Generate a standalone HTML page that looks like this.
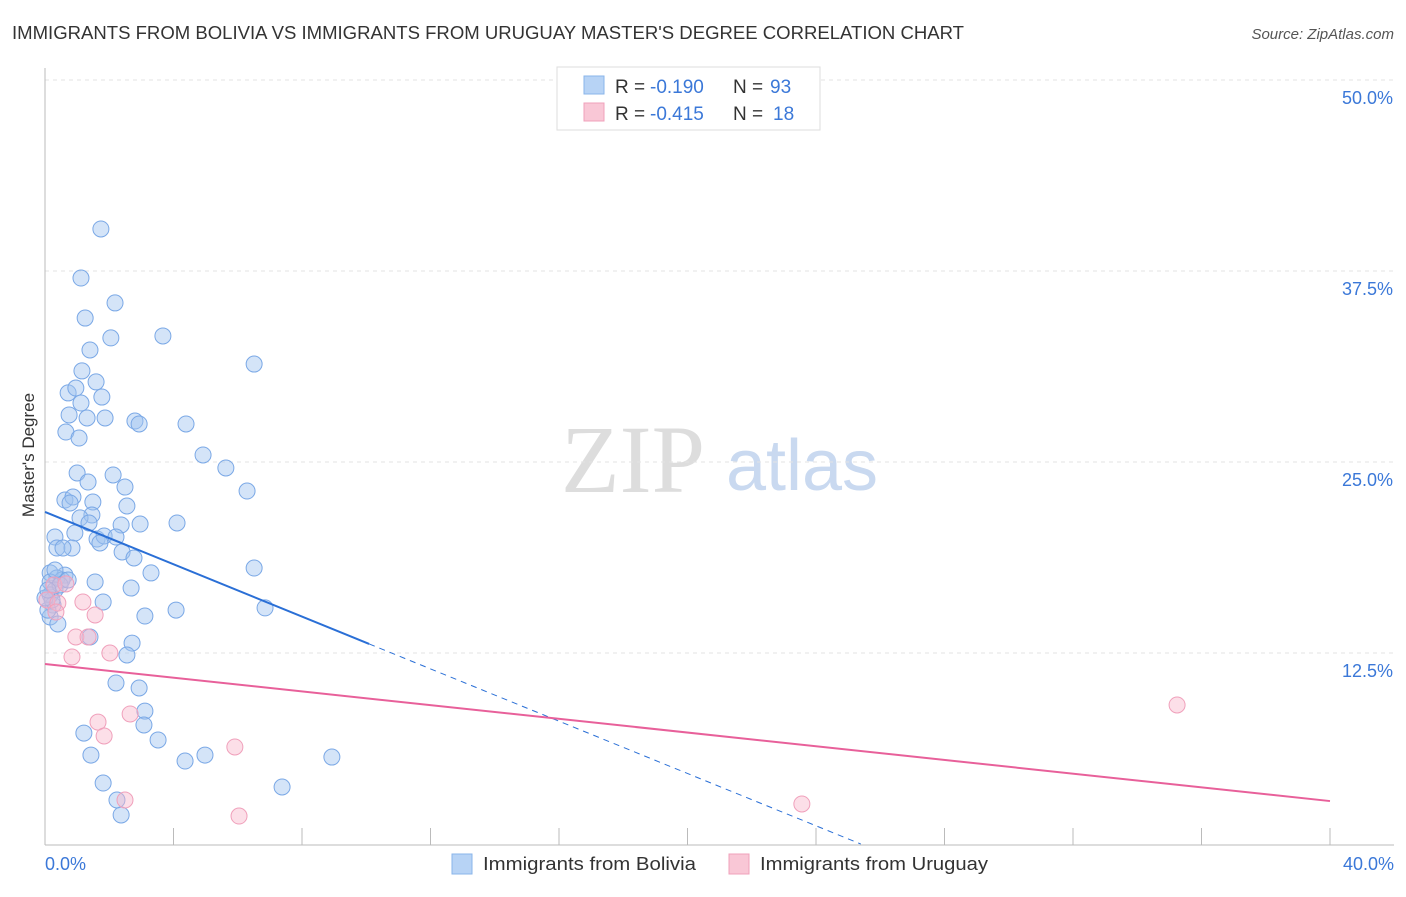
<!DOCTYPE html>
<html><head><meta charset="utf-8"><style>
body{margin:0;background:#fff;font-family:"Liberation Sans",sans-serif;}
</style></head><body>
<svg width="1406" height="892" xmlns="http://www.w3.org/2000/svg" font-family="Liberation Sans, sans-serif">
<text x="12" y="39" font-size="18" fill="#333" textLength="952" lengthAdjust="spacingAndGlyphs">IMMIGRANTS FROM BOLIVIA VS IMMIGRANTS FROM URUGUAY MASTER'S DEGREE CORRELATION CHART</text>
<text x="1394" y="39" font-size="15" fill="#555" text-anchor="end" font-style="italic">Source: ZipAtlas.com</text>
<g>
<text x="633" y="492" font-size="96" fill="#ddd" text-anchor="middle" font-family="Liberation Serif, serif">ZIP</text>
<text x="802" y="490" font-size="72" fill="#c9d9f0" text-anchor="middle">atlas</text>
</g>
<g id="grid"></g>
<g id="axes"></g>
<g id="marks"></g>
<text transform="translate(34,455) rotate(-90)" font-size="17" fill="#333" text-anchor="middle">Master's Degree</text>
<g>
<rect x="557" y="67" width="263" height="63" fill="#fff" stroke="#ddd"/>
<rect x="584" y="76" width="20" height="18" fill="#b7d3f5" stroke="#8ab4ea"/>
<text y="93" font-size="19" fill="#333"><tspan x="615">R =</tspan><tspan x="650" fill="#3b78d8">-0.190</tspan><tspan x="733">N =</tspan><tspan x="770" fill="#3b78d8">93</tspan></text>
<rect x="584" y="103" width="20" height="18" fill="#f9c7d6" stroke="#f0a0bb"/>
<text y="120" font-size="19" fill="#333"><tspan x="615">R =</tspan><tspan x="650" fill="#3b78d8">-0.415</tspan><tspan x="733">N =</tspan><tspan x="773" fill="#3b78d8">18</tspan></text>
</g>
<g>
<rect x="452" y="854" width="20" height="20" fill="#b7d3f5" stroke="#8ab4ea"/>
<text x="483" y="870" font-size="18" fill="#333" textLength="213" lengthAdjust="spacingAndGlyphs">Immigrants from Bolivia</text>
<rect x="729" y="854" width="20" height="20" fill="#f9c7d6" stroke="#f0a0bb"/>
<text x="760" y="870" font-size="18" fill="#333" textLength="228" lengthAdjust="spacingAndGlyphs">Immigrants from Uruguay</text>
</g>
</svg>
<script>
const yTicks=[12.5,25,37.5,50];
const yTickLabels=["12.5%","25.0%","37.5%","50.0%"];
const xTicks=[0,4,8,12,16,20,24,28,32,36,40];
const xEndLabels=["0.0%","40.0%"];
const boliviaPx=[[101,229],[81,278],[115,303],[85,318],[163,336],[111,338],[90,350],[254,364],[82,371],[96,382],[68,393],[76,388],[102,397],[81,403],[69,415],[87,418],[105,418],[135,421],[139,424],[186,424],[66,432],[79,438],[203,455],[226,468],[77,473],[113,475],[88,482],[125,487],[247,491],[65,500],[73,497],[70,503],[93,502],[127,506],[92,515],[80,518],[89,523],[121,525],[140,524],[177,523],[75,533],[55,537],[97,539],[104,536],[116,537],[100,543],[57,548],[72,548],[63,548],[122,552],[134,558],[254,568],[151,573],[50,573],[65,575],[57,578],[95,582],[62,580],[50,582],[131,588],[55,590],[50,595],[103,602],[53,605],[176,610],[265,608],[145,616],[50,617],[58,624],[90,637],[132,643],[127,655],[116,683],[139,688],[145,711],[144,725],[84,733],[158,740],[91,755],[185,761],[205,755],[332,757],[103,783],[282,787],[117,800],[121,815],[48,610],[52,600],[60,585],[68,580],[45,598],[48,590],[55,570]];
const uruguayPx=[[54,585],[66,584],[47,600],[58,603],[83,602],[95,615],[56,612],[76,637],[88,637],[72,657],[110,653],[98,722],[104,736],[130,714],[235,747],[125,800],[239,816],[1177,705],[802,804]];
const boliviaX=boliviaPx.map(p=>+((p[0]-45)*40/1285).toFixed(2));
const boliviaY=boliviaPx.map(p=>+((844-p[1])*12.5/191).toFixed(2));
const uruguayX=uruguayPx.map(p=>+((p[0]-45)*40/1285).toFixed(2));
const uruguayY=uruguayPx.map(p=>+((844-p[1])*12.5/191).toFixed(2));
const boliviaTrend=[21.73,-12.5]; const boliviaSolidEnd=10.09;
const uruguayTrend=[11.78,2.81];
const X=v=>45+v*1285/40, Y=v=>844-v*191/12.5;
const NS="http://www.w3.org/2000/svg";
function mk(t,a,p){const e=document.createElementNS(NS,t);for(const k in a)e.setAttribute(k,a[k]);p.appendChild(e);return e;}
const grid=document.getElementById('grid'),axes=document.getElementById('axes'),marks=document.getElementById('marks');
yTicks.forEach((t,i)=>{
 const l=mk('line',{x1:45,x2:1394,y1:Y(t),y2:Y(t),stroke:'#e3e3e3','stroke-dasharray':'4,4'},grid);
 
 
 const tx=mk('text',{x:1393,y:Y(t)+24,'font-size':18,fill:'#3b78d8','text-anchor':'end'},axes);
 tx.textContent=yTickLabels[i];
 
 
});
const ax=mk('line',{x1:45,x2:1394,y1:845,y2:845,stroke:'#bbb'},axes);


const ay=mk('line',{x1:45,x2:45,y1:68,y2:845,stroke:'#bbb'},axes);


xTicks.forEach(t=>{const l=mk('line',{x1:X(t),x2:X(t),y1:828,y2:845,stroke:'#bbb'},axes);
 
 });
[[0,'start',45],[40,'end',1394]].forEach((d,i)=>{const t=mk('text',{x:d[2],y:870,'font-size':18,fill:'#3b78d8','text-anchor':d[1]},axes);t.textContent=xEndLabels[i];
 
 });
boliviaX.forEach((x,i)=>{const c=mk('circle',{cx:X(x),cy:Y(boliviaY[i]),r:8,fill:'rgba(160,195,240,0.45)',stroke:'#7aa8e6','stroke-width':1},marks);
 
 });
uruguayX.forEach((x,i)=>{const c=mk('circle',{cx:X(x),cy:Y(uruguayY[i]),r:8,fill:'rgba(248,185,205,0.45)',stroke:'#f0a0bb','stroke-width':1},marks);
 
 });
const by=x=>boliviaTrend[0]+(boliviaTrend[1]-boliviaTrend[0])*x/40;
const b1=mk('line',{x1:X(0),y1:Y(by(0)),x2:X(boliviaSolidEnd),y2:Y(by(boliviaSolidEnd)),stroke:'#2a6fd6','stroke-width':2},marks);


const xz=40*boliviaTrend[0]/(boliviaTrend[0]-boliviaTrend[1]);
const b2=mk('line',{x1:X(boliviaSolidEnd),y1:Y(by(boliviaSolidEnd)),x2:X(xz),y2:Y(0),stroke:'#2a6fd6','stroke-width':1,'stroke-dasharray':'6,5'},marks);


const u=mk('line',{x1:X(0),y1:Y(uruguayTrend[0]),x2:X(40),y2:Y(uruguayTrend[1]),stroke:'#e8609a','stroke-width':2},marks);


</script>
</body></html>
